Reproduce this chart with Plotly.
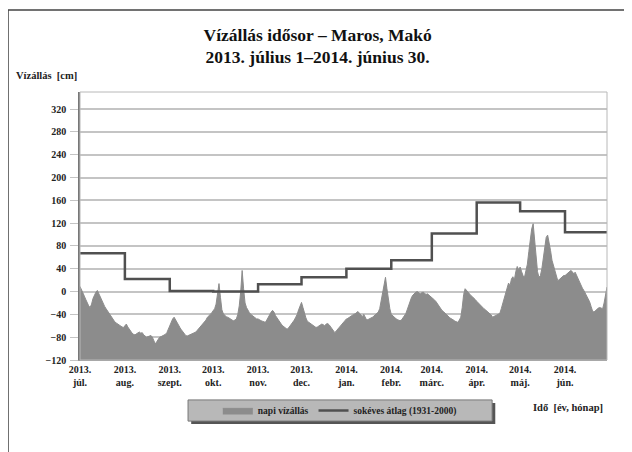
import pandas as pd
import plotly.graph_objects as go

# ─── Adatok ───────────────────────────────────────────────────────────────
# napi vízállás [cm], havonként (2013. júl. – 2014. jún.)
jul = [9, 4, -2, -8, -14, -20, -25, -28, -22, -12, -6, -1, 2, -4, -10, -16,
       -22, -26, -30, -34, -38, -42, -46, -51, -53, -55, -57, -58, -60, -62, -63]
aug = [-60, -57, -62, -66, -70, -73, -75, -76, -74, -72, -71, -73, -72, -76, -78, -80,
       -79, -78, -77, -80, -86, -92, -88, -84, -80, -79, -78, -77, -75, -72, -66]
sep = [-58, -51, -48, -45, -50, -55, -60, -63, -67, -71, -74, -77, -78, -77, -76,
       -75, -74, -73, -71, -68, -65, -63, -60, -57, -54, -50, -45, -43, -40, -37]
okt = [-33, -30, -22, -5, 14, -10, -32, -39, -42, -44, -45, -46, -48, -50, -51, -50,
       -48, -40, -25, 0, 37, 5, -20, -28, -33, -37, -40, -42, -44, -45, -48]
nov = [-48, -50, -51, -52, -53, -54, -50, -45, -40, -36, -33, -36, -42, -46, -51,
       -54, -57, -60, -62, -64, -66, -64, -61, -58, -54, -50, -45, -40, -32, -25]
dec = [-19, -28, -38, -46, -52, -54, -56, -58, -60, -62, -63, -62, -60, -58, -57, -58,
       -60, -57, -56, -58, -62, -66, -70, -72, -69, -66, -63, -60, -56, -53, -50]
jan = [-48, -47, -45, -44, -42, -40, -39, -36, -35, -38, -42, -44, -40, -46, -50, -49,
       -48, -47, -45, -43, -41, -39, -36, -30, -15, 0, 10, 25, 5, -15, -30]
feb = [-40, -43, -45, -47, -49, -50, -51, -50, -47, -43, -39, -32, -24, -16,
       -10, -6, -3, -1, 0, -2, -4, -2, -1, -3, -5, -4, -6, -8]
mar = [-10, -12, -15, -18, -22, -26, -30, -33, -35, -38, -41, -43, -45, -47, -48, -50,
       -52, -53, -54, -50, -45, -28, -5, 5, 2, -3, -5, -7, -9, -11, -14]
apr = [-17, -20, -23, -25, -27, -30, -32, -34, -36, -38, -41, -45, -43, -42, -41,
       -40, -38, -30, -20, -10, 0, 8, 15, 10, 22, 26, 20, 35, 44, 38]
maj = [43, 35, 28, 25, 35, 48, 70, 90, 110, 119, 95, 70, 35, 25, 28, 40,
       62, 80, 95, 99, 88, 72, 55, 45, 35, 25, 19, 21, 23, 25, 28]
jun = [28, 30, 32, 35, 37, 35, 31, 34, 28, 22, 16, 10, 6, 2, -3,
       -8, -13, -18, -26, -34, -36, -33, -30, -29, -28, -29, -30, -20, -5, 8]

napi = jul + aug + sep + okt + nov + dec + jan + feb + mar + apr + maj + jun
napok = pd.date_range("2013-07-01", "2014-06-30", freq="D")

# sokéves havi átlag [cm]
honap_kezdet = pd.date_range("2013-07-01", "2014-06-01", freq="MS")
atlag = [67, 22, 1, 0, 13, 25, 40, 55, 102, 156, 141, 104]

tick_text = ["2013.<br>júl.", "2013.<br>aug.", "2013.<br>szept.", "2013.<br>okt.",
             "2013.<br>nov.", "2013.<br>dec.", "2014.<br>jan.", "2014.<br>febr.",
             "2014.<br>márc.", "2014.<br>ápr.", "2014.<br>máj.", "2014.<br>jún."]

Y_MIN, Y_MAX = -120, 350
FONT = "Liberation Serif"

fig = go.Figure()

# alapvonal a kitöltéshez (tengely alja)
fig.add_trace(go.Scatter(
    x=napok, y=[Y_MIN] * len(napok), mode="lines",
    line=dict(width=0, color="rgba(0,0,0,0)"),
    showlegend=False, hoverinfo="skip",
))

fig.add_trace(go.Scatter(
    x=napok, y=napi, mode="lines", name="<b>napi vízállás</b>",
    fill="tonexty", fillcolor="#8c8c8c",
    line=dict(color="#8c8c8c", width=1),
))

fig.add_trace(go.Scatter(
    x=list(honap_kezdet) + [pd.Timestamp("2014-06-30")],
    y=atlag + [atlag[-1]],
    mode="lines", line_shape="hv", name="<b>sokéves átlag (1931-2000)</b>",
    line=dict(color="#505050", width=2.5),
))

fig.update_layout(
    width=632, height=452,
    margin=dict(l=72, r=33, t=84, b=100),
    paper_bgcolor="white", plot_bgcolor="white",
    font=dict(family=FONT, color="#222222"),
    title=dict(
        text="<b>Vízállás idősor – Maros, Makó<br>2013. július 1–2014. június 30.</b>",
        x=0.49, xanchor="center", y=0.928, yanchor="middle",
        font=dict(family=FONT, size=17.5, color="#111111"),
    ),
    showlegend=True,
    legend=dict(
        orientation="h", traceorder="normal",
        x=0.493, xanchor="center", y=-0.188, yanchor="middle",
        bgcolor="rgba(0,0,0,0)", borderwidth=0,
        font=dict(family=FONT, size=9.5, color="#222222"),
        itemwidth=30,
    ),
    xaxis=dict(
        range=["2013-07-01", "2014-06-30"],
        tickvals=list(honap_kezdet), ticktext=[f"<b>{t}</b>" for t in tick_text],
        tickfont=dict(family=FONT, size=10, color="#222222"),
        showgrid=False, showline=True, linecolor="#999999", linewidth=1,
        ticks="", zeroline=False,
    ),
    yaxis=dict(
        range=[Y_MIN, Y_MAX], tick0=-120, dtick=40,
        tickfont=dict(family=FONT, size=10, color="#222222"),
        tickprefix="<b>", ticksuffix="</b>",
        showgrid=True, gridcolor="#c4c4c4", gridwidth=1.5,
        showline=True, linecolor="#777777", linewidth=1.5,
        ticks="outside", ticklen=8, tickcolor="#c4c4c4", ticklabelstandoff=2,
        zeroline=False,
    ),
    shapes=[
        # a rajzterület kerete
        dict(type="rect", xref="paper", yref="paper", x0=0, x1=1, y0=0, y1=1,
             line=dict(color="#b8b8b8", width=1), layer="above"),
        # a teljes ábra kerete
        dict(type="rect", xref="paper", yref="paper", x0=-0.1366, x1=1.1,
             y0=-0.45, y1=1.306, line=dict(color="#444444", width=1.5)),
        # jelmagyarázat árnyéka és doboza
        dict(type="rect", xref="paper", yref="paper", x0=0.211, x1=0.788,
             y0=-0.239, y1=-0.16, fillcolor="#555555", line=dict(width=0)),
        dict(type="rect", xref="paper", yref="paper", x0=0.205, x1=0.782,
             y0=-0.228, y1=-0.149, fillcolor="#b8b8b8",
             line=dict(color="#777777", width=1)),
    ],
    annotations=[
        dict(text="<b>Vízállás  [cm]</b>", xref="paper", yref="paper",
             x=-0.125, y=1.06, xanchor="left", yanchor="middle", showarrow=False,
             font=dict(family=FONT, size=10.5, color="#222222")),
        dict(text="<b>Idő  [év, hónap]</b>", xref="paper", yref="paper",
             x=0.996, y=-0.179, xanchor="right", yanchor="middle", showarrow=False,
             font=dict(family=FONT, size=10.5, color="#222222")),
    ],
)

fig.write_html("out.html")
